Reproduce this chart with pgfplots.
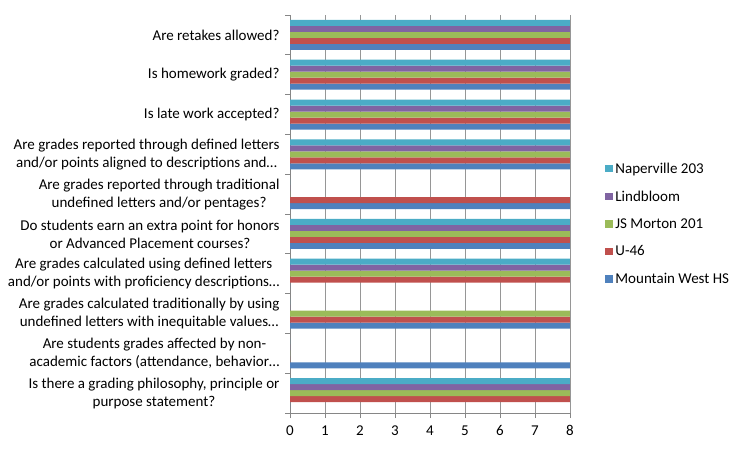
\documentclass[border=0pt]{standalone}
\usepackage{pgfplots}
\usepackage{pgfplotstable}
\pgfplotsset{compat=1.18}
\usepackage{fontspec}
\setmainfont{Carlito}

\definecolor{cMW}{HTML}{4F81BD}
\definecolor{cU}{HTML}{C0504D}
\definecolor{cJS}{HTML}{9BBB59}
\definecolor{cLi}{HTML}{8064A2}
\definecolor{cNa}{HTML}{4BACC6}
\definecolor{axgray}{RGB}{134,134,134}
\definecolor{gridgray}{RGB}{150,150,150}

% rows from bottom (0) to top (9)
\pgfplotstableread{
pos MW U46 JS Lind Nap
0 0 8 8 8 8
1 8 0 0 0 0
2 8 8 8 0 0
3 0 8 8 8 8
4 8 8 8 8 8
5 8 8 0 0 0
6 8 8 8 8 8
7 8 8 8 8 8
8 8 8 8 8 8
9 8 8 8 8 8
}\survey

\pgfplotsset{
  sbar/.style 2 args={xbar, bar width=6pt, bar shift=#2, fill=#1, draw=none,
    legend image code/.code={\fill[#1] (0pt,-3.5pt) rectangle (8pt,4pt);}},
}

\begin{document}
\begin{tikzpicture}
\path[use as bounding box] (0,0) rectangle (735pt,448pt);
\begin{axis}[
  at={(290pt,35pt)}, anchor=south west,
  scale only axis, width=280pt, height=398pt,
  xmin=0, xmax=8, ymin=-0.5, ymax=9.5,
  axis lines*=left,
  axis line style={draw=axgray, line width=0.8pt},
  xtick={0,...,8},
  xmajorgrids, grid style={draw=gridgray, line width=0.8pt},
  ytick={0,...,9},
  major y tick style={draw=none},
  minor ytick={-0.5,0.5,...,9.5},
  minor y tick style={draw=axgray, line width=0.8pt},
  minor tick length=5pt,
  major x tick style={draw=axgray, line width=0.8pt},
  major tick length=5pt,
  tick align=outside,
  yticklabels={
    {Is there a grading philosophy, principle or\\purpose statement?},
    {Are students grades affected by non-\\academic factors (attendance, behavior…},
    {Are grades calculated traditionally by using\\undefined letters with inequitable values…},
    {Are grades calculated using defined letters\\and/or points with proficiency descriptions…},
    {Do students earn an extra point for honors\\or Advanced Placement courses?},
    {Are grades reported through traditional\\undefined letters and/or pentages?},
    {Are grades reported through defined letters\\and/or points aligned to descriptions and…},
    {Is late work accepted?},
    {Is homework graded?},
    {Are retakes allowed?}},
  yticklabel style={align=center, font=\fontsize{15}{18}\selectfont, xshift=-2pt},
  xticklabel style={font=\fontsize{15}{18}\selectfont, yshift=-4pt},
  /pgf/number format/assume math mode=true,
  legend style={at={(1.115,0.475)}, anchor=west, draw=none,
    font=\fontsize{15}{18}\selectfont, row sep=12pt,
    cells={anchor=west}},
  legend cell align=left,
  reverse legend,
]
\addplot[sbar={cMW}{-12pt}] table[x=MW, y=pos] {\survey};
\addplot[sbar={cU}{-6pt}] table[x=U46, y=pos] {\survey};
\addplot[sbar={cJS}{0pt}] table[x=JS, y=pos] {\survey};
\addplot[sbar={cLi}{6pt}] table[x=Lind, y=pos] {\survey};
\addplot[sbar={cNa}{12pt}] table[x=Nap, y=pos] {\survey};
\legend{Mountain West HS, U-46, JS Morton 201, Lindbloom, Naperville 203}
\end{axis}
\end{tikzpicture}
\end{document}
